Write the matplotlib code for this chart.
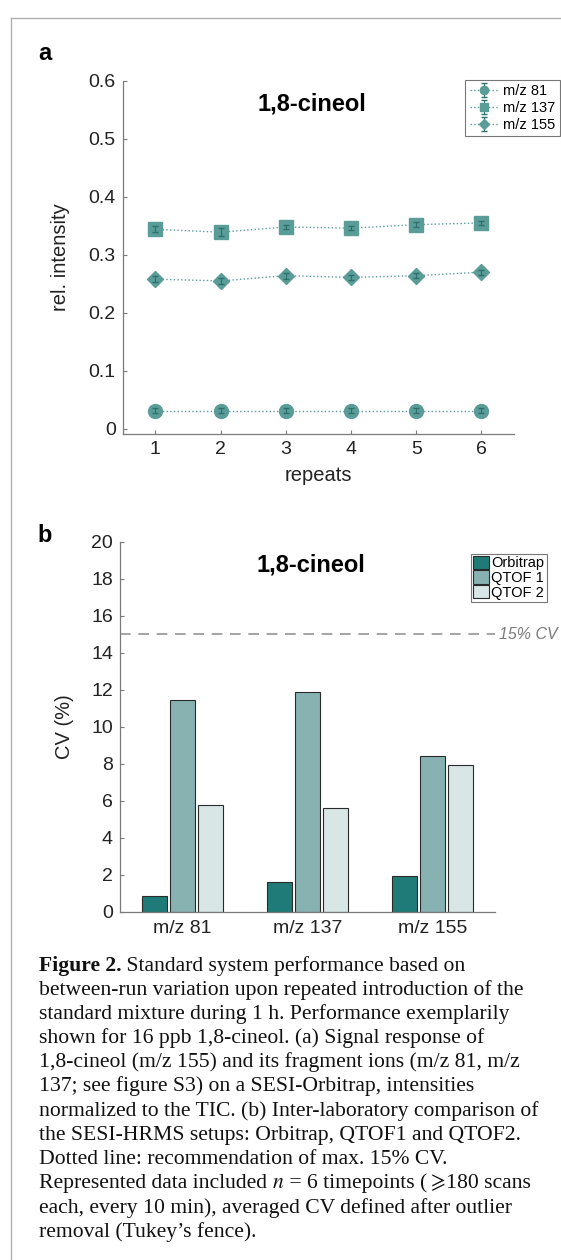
import numpy as np
import matplotlib
matplotlib.use('Agg')
import matplotlib.pyplot as plt
from matplotlib.lines import Line2D
from matplotlib.ticker import FuncFormatter

plt.rcParams['font.family'] = ['Liberation Sans', 'DejaVu Sans']
plt.rcParams['mathtext.fontset'] = 'stix'

# panel a: relative intensity over repeats
repeats = [1, 2, 3, 4, 5, 6]
mz81 = [0.031, 0.031, 0.031, 0.031, 0.031, 0.031]
mz81_err = [0.004, 0.004, 0.004, 0.004, 0.004, 0.004]
mz137 = [0.344, 0.339, 0.348, 0.346, 0.352, 0.355]
mz137_err = [0.005, 0.007, 0.004, 0.004, 0.004, 0.004]
mz155 = [0.258, 0.255, 0.264, 0.261, 0.264, 0.270]
mz155_err = [0.005, 0.005, 0.005, 0.004, 0.004, 0.004]

# panel b: CV per ion and instrument
ions = ['m/z 81', 'm/z 137', 'm/z 155']
orbitrap = [0.86, 1.6, 1.96]
qtof1 = [11.43, 11.88, 8.45]
qtof2 = [5.78, 5.6, 7.92]
cv_limit = 15

teal = '#5a9c98'
axcol = '#7a7a7a'

fig = plt.figure(figsize=(5.61, 12.6), dpi=100)

def style_axes(ax):
    for s in ['top', 'right']:
        ax.spines[s].set_visible(False)
    for s in ['left', 'bottom']:
        ax.spines[s].set_color(axcol)
        ax.spines[s].set_linewidth(0.9)
    ax.tick_params(direction='in', length=3, width=0.8, color=axcol,
                   labelsize=14, labelcolor='#222222', pad=5)

def serie(ax, y, err, mk, ms, lab):
    eb = ax.errorbar(repeats, y, yerr=err, fmt=mk, ls=':', lw=1, color=teal,
                     ms=ms, mfc=teal, mec=teal, ecolor='#2c6f6b', elinewidth=0.8,
                     capsize=2, label=lab)
    for c in eb[1]:
        c.set_zorder(4)
    for c in eb[2]:
        c.set_zorder(4)

# ---- panel a
ax1 = fig.add_axes([0.2187, 0.6556, 0.6977, 0.2802])
style_axes(ax1)
serie(ax1, mz81, mz81_err, 'o', 10, 'm/z 81')
serie(ax1, mz137, mz137_err, 's', 10.5, 'm/z 137')
serie(ax1, mz155, mz155_err, 'D', 8.5, 'm/z 155')
ax1.set_xlim(0.5, 6.5)
ax1.set_ylim(-0.009, 0.6)
ax1.set_xticks(repeats)
ax1.set_yticks([0, 0.1, 0.2, 0.3, 0.4, 0.5, 0.6])
ax1.yaxis.set_major_formatter(FuncFormatter(lambda v, p: '%g' % round(v, 2)))
ax1.set_xlabel('repeats', fontsize=14.5, color='#222222', labelpad=6)
ax1.set_ylabel('rel. intensity', fontsize=14.5, color='#222222', labelpad=13)
ax1.text(0.484, 0.935, '1,8-cineol', transform=ax1.transAxes, ha='center',
         va='center', fontsize=17, fontweight='bold')
leg1 = ax1.legend(loc='upper right', bbox_to_anchor=(1.117, 1.003), fontsize=10.5,
                  frameon=True, fancybox=False, edgecolor='#555555',
                  handlelength=2.0, handletextpad=0.3, borderpad=0.3,
                  labelspacing=0.2, borderaxespad=0, markerscale=0.6)
leg1.get_frame().set_linewidth(0.8)

# ---- panel b
ax2 = fig.add_axes([0.2137, 0.2762, 0.6683, 0.2937])
style_axes(ax2)
x = np.arange(1, len(ions) + 1)
w = 0.2
off = 0.226
ax2.bar(x - off, orbitrap, w, color='#1f7b78', edgecolor='#2a2a2a', lw=0.8, label='Orbitrap')
ax2.bar(x, qtof1, w, color='#88b2b2', edgecolor='#2a2a2a', lw=0.8, label='QTOF 1')
ax2.bar(x + off, qtof2, w, color='#d8e6e6', edgecolor='#2a2a2a', lw=0.8, label='QTOF 2')
ax2.axhline(cv_limit, color='#8c8c8c', lw=1.1, dashes=(7, 5))
ax2.text(3.535, cv_limit, '15% CV', fontsize=11.5, style='italic', color='#7a7a7a',
         ha='left', va='center', clip_on=False)
ax2.set_xlim(0.5, 3.5)
ax2.set_ylim(0, 20)
ax2.set_xticks(x)
ax2.set_xticklabels(ions)
ax2.tick_params(axis='x', length=0, pad=6)
ax2.set_yticks(np.arange(0, 21, 2))
ax2.set_ylabel('CV (%)', fontsize=14.5, color='#222222', labelpad=12)
ax2.text(0.51, 0.938, '1,8-cineol', transform=ax2.transAxes, ha='center',
         va='center', fontsize=17, fontweight='bold')
leg2 = ax2.legend(loc='upper right', bbox_to_anchor=(1.138, 0.968), fontsize=10.5,
                  frameon=True, fancybox=False, edgecolor='#555555',
                  handlelength=1.1, handleheight=1.0, handletextpad=0.15,
                  borderpad=0.15, labelspacing=0.0, borderaxespad=0)
leg2.get_frame().set_linewidth(0.8)

# panel letters
fig.text(45 / 561, 1 - 53 / 1260, 'a', fontsize=17, fontweight='bold', ha='center', va='center')
fig.text(45 / 561, 1 - 535 / 1260, 'b', fontsize=17, fontweight='bold', ha='center', va='center')

# outer frame
fig.add_artist(Line2D([11 / 561, 11 / 561], [0, 1 - 18 / 1260], transform=fig.transFigure,
                      color='#b0b0b0', lw=1))
fig.add_artist(Line2D([11 / 561, 1], [1 - 18 / 1260, 1 - 18 / 1260], transform=fig.transFigure,
                      color='#b0b0b0', lw=1))

# caption
serif = ['Liberation Serif', 'DejaVu Serif']
cap = [
    [('Figure 2.', 'bold'), (' Standard system performance based on', 'normal')],
    [('between-run variation upon repeated introduction of the', 'normal')],
    [('standard mixture during 1 h. Performance exemplarily', 'normal')],
    [('shown for 16 ppb 1,8-cineol. (a) Signal response of', 'normal')],
    [('1,8-cineol (m/z 155) and its fragment ions (m/z 81, m/z', 'normal')],
    [('137; see figure S3) on a SESI-Orbitrap, intensities', 'normal')],
    [('normalized to the TIC. (b) Inter-laboratory comparison of', 'normal')],
    [('the SESI-HRMS setups: Orbitrap, QTOF1 and QTOF2.', 'normal')],
    [('Dotted line: recommendation of max. 15% CV.', 'normal')],
    [('Represented data included ', 'normal'), ('$n$', 'normal'),
     (' = 6 timepoints (', 'normal'), (r'$\geqslant$', 'normal'), ('180 scans', 'normal')],
    [('each, every 10 min), averaged CV defined after outlier', 'normal')],
    [('removal (Tukey\u2019s fence).', 'normal')],
]
renderer = fig.canvas.get_renderer()
y0 = 970.5
for i, line in enumerate(cap):
    xpix = 38.6
    ypix = y0 + i * 24.2
    for txt, wt in line:
        t = fig.text(xpix / 561, 1 - ypix / 1260, txt, fontsize=15.6, family=serif,
                     fontweight=wt, ha='left', va='baseline', color='#111111')
        bb = t.get_window_extent(renderer=renderer)
        xpix += bb.width

fig.savefig('out.png', dpi=100)
